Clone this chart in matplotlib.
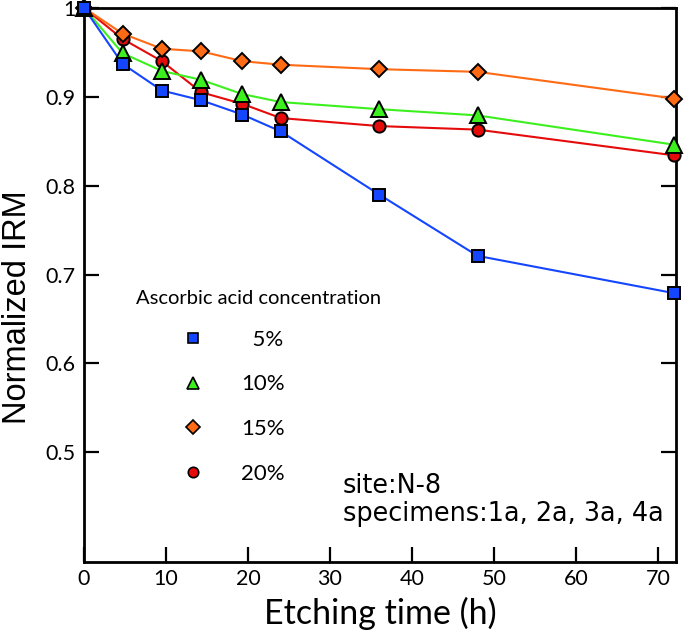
import numpy as np
import matplotlib
matplotlib.use("Agg")
import matplotlib.pyplot as plt
from matplotlib.lines import Line2D

# ---- data ----
hours = [0, 4.7, 9.5, 14.3, 19.3, 24, 36, 48, 72]
irm_5 = [1.0, 0.937, 0.907, 0.896, 0.880, 0.861, 0.790, 0.721, 0.679]
irm_10 = [1.0, 0.949, 0.929, 0.919, 0.903, 0.894, 0.886, 0.879, 0.846]
irm_15 = [1.0, 0.971, 0.954, 0.951, 0.940, 0.936, 0.931, 0.928, 0.898]
irm_20 = [1.0, 0.965, 0.940, 0.905, 0.892, 0.876, 0.867, 0.863, 0.834]
labels = ["  5%", "10%", "15%", "20%"]
xticks = [0, 10, 20, 30, 40, 50, 60, 70]
yticks = [0.5, 0.6, 0.7, 0.8, 0.9, 1.0]
yticklabels = ["0.5", "0.6", "0.7", "0.8", "0.9", "1"]

fig = plt.figure(figsize=(6.85, 6.31), dpi=100)
ax = fig.add_axes([0.1226, 0.1098, 0.8643, 0.8778])

series = [
    (irm_20, "#e50b0b", "o", 8.8, labels[3]),
    (irm_15, "#ff6a14", "D", 8.5, labels[2]),
    (irm_10, "#3cf01e", "^", 11.0, labels[1]),
    (irm_5, "#1446ff", "s", 8.8, labels[0]),
]
handles = {}
for vals, col, mk, ms, lab in series:
    ax.plot(hours, vals, color=col, lw=1.5, zorder=2)
    ax.plot(hours, vals, linestyle="none", marker=mk, ms=ms, mfc=col,
            mec="black", mew=1.4, zorder=3, clip_on=False)
    handles[lab] = Line2D([], [], linestyle="none", marker=mk, ms=ms * 0.85,
                          mfc=col, mec="black", mew=1.2)

ax.set_xlim(0, 72.2)
ax.set_ylim(0.377, 1.0)
ax.set_xticks(xticks)
ax.set_yticks(yticks)
ax.set_yticklabels(yticklabels)

tickfont = "Lato"
for lab in ax.get_xticklabels() + ax.get_yticklabels():
    lab.set_fontfamily(tickfont)
    lab.set_fontsize(15.5)

ax.tick_params(axis="both", direction="in", length=11, width=1.6,
               right=True, top=False, pad=5)
ax.tick_params(axis="y", pad=6)
for s in ax.spines.values():
    s.set_linewidth(2.0)

ax.set_xlabel("Etching time (h)", fontsize=24.5, fontfamily=tickfont, labelpad=6)
ax.set_ylabel("Normalized IRM", fontsize=23.5, fontfamily="Liberation Sans")
ax.yaxis.set_label_coords(-0.086, 0.459)

ax.text(0.088, 0.475, "Ascorbic acid concentration", transform=ax.transAxes,
        fontsize=14.5, family=tickfont, va="center", ha="left")

order = [labels[0], labels[1], labels[2], labels[3]]
leg = ax.legend([handles[l] for l in order], order, frameon=False,
                loc="upper left", bbox_to_anchor=(0.146, 0.439),
                labelspacing=1.115, handletextpad=1.67, borderpad=0,
                handlelength=1.0,
                prop={"family": tickfont, "size": 16})

ax.text(0.4375, 0.124, "site:N-8", transform=ax.transAxes, fontsize=18.4,
        family="DejaVu Sans", va="baseline", ha="left")
ax.text(0.4375, 0.0735, "specimens:1a, 2a, 3a, 4a", transform=ax.transAxes,
        fontsize=18.4, family="DejaVu Sans", va="baseline", ha="left")

fig.savefig("out.png", dpi=100)
